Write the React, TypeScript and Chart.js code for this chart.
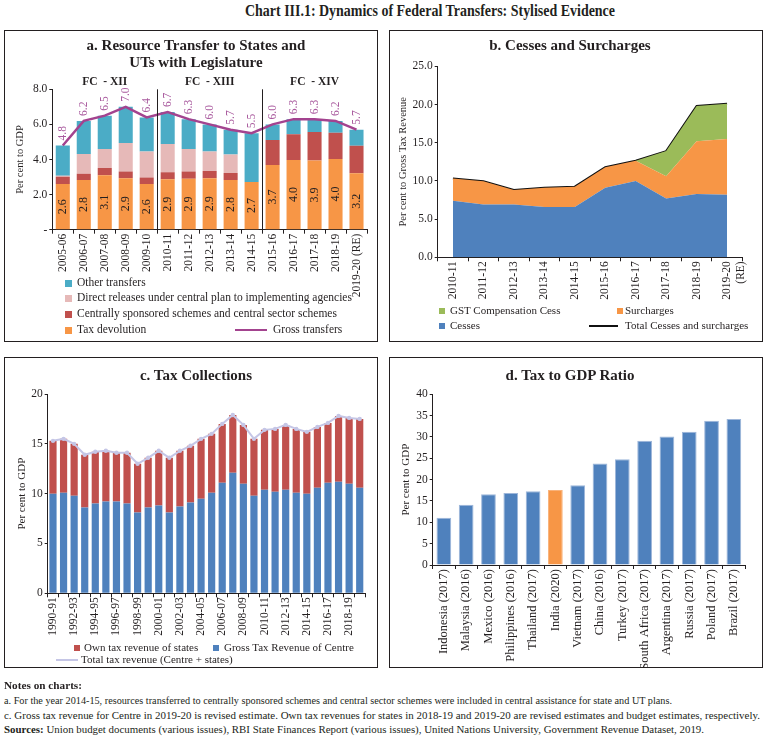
import React, { useEffect, useLayoutEffect, useRef } from 'react';
import { Chart, registerables } from 'chart.js';

Chart.register(...registerables);

const FONT = "'Liberation Serif', 'Times New Roman', serif";
const INK = '#231f20';
const ORANGE = '#F79646';
const RED = '#C0504D';
const PINK = '#E6B9B8';
const TEAL = '#4BACC6';
const BLUE = '#4F81BD';
const GREEN = '#9BBB59';
const PURPLE = '#A3438F';
const PURPLE_LABEL = '#A95A9E';
const LAVENDER = '#C5C6E6';

Chart.defaults.font.family = FONT;
Chart.defaults.color = INK;

// ---------- Panel a: Resource Transfer to States and UTs with Legislature ----------
const aYears = ['2005-06', '2006-07', '2007-08', '2008-09', '2009-10', '2010-11', '2011-12', '2012-13', '2013-14', '2014-15', '2015-16', '2016-17', '2017-18', '2018-19', '2019-20 (RE)'];
const aTaxDevolution = [2.6, 2.83, 3.1, 2.93, 2.6, 2.88, 2.9, 2.93, 2.83, 2.72, 3.69, 3.97, 3.94, 4.03, 3.21];
const aCentrallySponsored = [0.42, 0.36, 0.42, 0.38, 0.37, 0.39, 0.41, 0.42, 0.4, 0, 1.42, 1.47, 1.63, 1.5, 1.58];
const aDirectReleases = [0.05, 1.13, 1.08, 1.63, 1.48, 1.62, 1.29, 1.1, 1.05, 0, 0, 0, 0, 0, 0];
const aOtherTransfers = [1.73, 1.88, 1.9, 2.06, 1.95, 1.81, 1.7, 1.55, 1.42, 2.78, 0.89, 0.86, 0.73, 0.67, 0.91];
const aGrossTransfers = [4.8, 6.2, 6.5, 7.0, 6.4, 6.7, 6.3, 6.0, 5.7, 5.5, 6.0, 6.3, 6.3, 6.2, 5.7];
const aFcGroups = ['FC  - XII', 'FC  - XIII', 'FC  - XIV'];
const aSeries = ['Other transfers', 'Direct releases under central plan to implementing agencies', 'Centrally sponsored schemes and central sector schemes', 'Tax devolution', 'Gross transfers'];

// ---------- Panel b: Cesses and Surcharges ----------
const bYears: (string | string[])[] = ['2010-11', '2011-12', '2012-13', '2013-14', '2014-15', '2015-16', '2016-17', '2017-18', '2018-19', ['2019-20', '(RE)']];
const bCesses = [7.4, 6.9, 6.9, 6.6, 6.6, 9.1, 10.0, 7.7, 8.3, 8.2];
const bSurcharges = [2.9, 3.05, 1.9, 2.5, 2.65, 2.7, 2.65, 2.9, 6.9, 7.3];
const bGstCess = [0, 0, 0, 0, 0, 0, 0, 3.3, 4.6, 4.6];
const bTotal = [10.3, 9.95, 8.8, 9.1, 9.25, 11.8, 12.65, 13.9, 19.8, 20.1];
const bSeries = ['GST Compensation Cess', 'Surcharges', 'Cesses', 'Total Cesses and surcharges'];

// ---------- Panel c: Tax Collections ----------
const cYears = ['1990-91', '1991-92', '1992-93', '1993-94', '1994-95', '1995-96', '1996-97', '1997-98', '1998-99', '1999-00', '2000-01', '2001-02', '2002-03', '2003-04', '2004-05', '2005-06', '2006-07', '2007-08', '2008-09', '2009-10', '2010-11', '2011-12', '2012-13', '2013-14', '2014-15', '2015-16', '2016-17', '2017-18', '2018-19', '2019-20'];
const cCentre = [10.0, 10.1, 9.8, 8.6, 9.0, 9.2, 9.2, 9.0, 8.1, 8.6, 8.8, 8.1, 8.7, 9.1, 9.5, 10.1, 11.1, 12.1, 11.0, 9.8, 10.4, 10.2, 10.4, 10.1, 10.0, 10.6, 11.1, 11.2, 11.0, 10.6];
const cStates = [5.3, 5.4, 5.2, 5.3, 5.2, 5.1, 4.9, 5.1, 4.9, 5.0, 5.5, 5.5, 5.6, 5.7, 6.0, 5.9, 5.9, 5.8, 5.9, 5.7, 6.0, 6.3, 6.5, 6.4, 6.2, 6.1, 6.0, 6.6, 6.6, 6.9];
const cTotal = [15.3, 15.5, 15.0, 13.9, 14.2, 14.3, 14.1, 14.1, 13.0, 13.6, 14.3, 13.6, 14.3, 14.8, 15.5, 16.0, 17.0, 17.9, 16.9, 15.5, 16.4, 16.5, 16.9, 16.5, 16.2, 16.7, 17.1, 17.8, 17.6, 17.5];
const cSeries = ['Own tax revenue of states', 'Gross Tax Revenue of Centre', 'Total tax revenue (Centre + states)'];

// ---------- Panel d: Tax to GDP Ratio ----------
const dCountries = ['Indonesia (2017)', 'Malaysia (2016)', 'Mexico (2016)', 'Philippines (2016)', 'Thailand (2017)', 'India (2020)', 'Vietnam (2017)', 'China (2016)', 'Turkey (2017)', 'South Africa (2017)', 'Argentina (2017)', 'Russia (2017)', 'Poland (2017)', 'Brazil (2017)'];
const dTaxToGdp = [11.1, 14.1, 16.6, 16.9, 17.3, 17.6, 18.7, 23.8, 24.8, 29.1, 30.1, 31.2, 33.8, 34.2];
const dHighlight = 'India (2020)';

// ---------- helpers ----------
const axisGrid = { drawOnChartArea: false, drawTicks: true, tickLength: 4, color: INK, lineWidth: 1 };
const axisBorder = { display: true, color: INK, width: 1 };

function xAxis(height: number, fontSize: number, extra: any = {}) {
  return {
    grid: { ...axisGrid, offset: true },
    border: axisBorder,
    offset: true,
    ticks: { autoSkip: false, minRotation: 90, maxRotation: 90, padding: 0, color: INK, font: { size: fontSize, family: FONT }, ...(extra.ticks || {}) },
    afterFit: (s: any) => { s.height = height; },
  };
}

function yAxis(width: number, min: number, max: number, step: number, fmt: (v: number) => string, title: string, titlePad: number, titleSize = 10.5) {
  return {
    min, max,
    grid: { ...axisGrid, tickLength: 3 },
    border: axisBorder,
    ticks: { stepSize: step, padding: 2, color: INK, font: { size: 11.5, family: FONT }, callback: (v: any) => fmt(Number(v)) },
    title: { display: true, text: title, color: INK, font: { size: titleSize, family: FONT }, padding: { top: titlePad, bottom: 0 } },
    afterFit: (s: any) => { s.width = width; },
  };
}

const baseOptions = (pad: { top: number; right: number }) => ({
  responsive: false,
  maintainAspectRatio: false,
  animation: false as const,
  devicePixelRatio: 1,
  layout: { padding: { top: pad.top, right: pad.right, left: 0, bottom: 0 } },
  plugins: { legend: { display: false }, tooltip: { enabled: false }, title: { display: false } },
  events: [] as any[],
});

const panelAPlugin = {
  id: 'panelAExtras',
  afterDatasetsDraw(chart: any) {
    const ctx = chart.ctx;
    const xs = chart.scales.x;
    const { top, bottom } = chart.chartArea;
    ctx.save();
    ctx.strokeStyle = INK;
    ctx.lineWidth = 1;
    [5, 10].forEach((i) => {
      const x = Math.round((xs.getPixelForValue(i - 1) + xs.getPixelForValue(i)) / 2) + 0.5;
      ctx.beginPath();
      ctx.moveTo(x, top);
      ctx.lineTo(x, bottom);
      ctx.stroke();
    });
    ctx.fillStyle = INK;
    ctx.font = `bold 11.5px ${FONT}`;
    ctx.textAlign = 'center';
    ctx.textBaseline = 'middle';
    aFcGroups.forEach((g, k) => {
      const x = (xs.getPixelForValue(k * 5) + xs.getPixelForValue(k * 5 + 4)) / 2;
      ctx.fillText(g, x, top - 7);
    });
    const meta0 = chart.getDatasetMeta(0);
    ctx.font = `12px ${FONT}`;
    meta0.data.forEach((bar: any, i: number) => {
      const p = bar.getProps(['x', 'y', 'base'], true);
      ctx.save();
      ctx.translate(p.x, (p.y + p.base) / 2);
      ctx.rotate(-Math.PI / 2);
      ctx.textAlign = 'center';
      ctx.textBaseline = 'middle';
      ctx.fillText(aTaxDevolution[i].toFixed(1), 0, 0);
      ctx.restore();
    });
    const metaL = chart.getDatasetMeta(4);
    ctx.fillStyle = PURPLE_LABEL;
    ctx.font = `11.5px ${FONT}`;
    metaL.data.forEach((pt: any, i: number) => {
      ctx.save();
      ctx.translate(pt.x, pt.y - 5);
      ctx.rotate(-Math.PI / 2);
      ctx.textAlign = 'left';
      ctx.textBaseline = 'middle';
      ctx.fillText(aGrossTransfers[i].toFixed(1), 0, 0);
      ctx.restore();
    });
    ctx.restore();
  },
};

function configA(): any {
  return {
    type: 'bar',
    data: {
      labels: aYears,
      datasets: [
        { label: aSeries[3], data: aTaxDevolution, backgroundColor: ORANGE, stack: 's', barPercentage: 0.67, categoryPercentage: 1 },
        { label: aSeries[2], data: aCentrallySponsored, backgroundColor: RED, stack: 's', barPercentage: 0.67, categoryPercentage: 1 },
        { label: aSeries[1], data: aDirectReleases, backgroundColor: PINK, stack: 's', barPercentage: 0.67, categoryPercentage: 1 },
        { label: aSeries[0], data: aOtherTransfers, backgroundColor: TEAL, stack: 's', barPercentage: 0.67, categoryPercentage: 1 },
        { type: 'line', label: aSeries[4], data: aGrossTransfers, borderColor: PURPLE, borderWidth: 2.5, pointRadius: 0, stack: 'line', order: -1, tension: 0 },
      ],
    },
    options: {
      ...baseOptions({ top: 58.3, right: 10 }),
      scales: {
        x: { ...xAxis(111.3, 11.5), stacked: true },
        y: { ...yAxis(47.3, 0, 8, 2, (v) => (v === 0 ? '-' : v.toFixed(1)), 'Per cent to GDP', 8.5), stacked: true },
      },
    },
    plugins: [panelAPlugin],
  };
}

function configB(): any {
  const area = (label: string, data: number[], color: string, fill: string) => ({
    label, data, backgroundColor: color, borderColor: 'rgba(0,0,0,0)', borderWidth: 0, pointRadius: 0, fill, stack: 'area', tension: 0,
  });
  return {
    type: 'line',
    data: {
      labels: bYears,
      datasets: [
        area(bSeries[2], bCesses, BLUE, 'origin'),
        area(bSeries[1], bSurcharges, ORANGE, '-1'),
        area(bSeries[0], bGstCess, GREEN, '-1'),
        { label: bSeries[3], data: bTotal, borderColor: '#111111', borderWidth: 2, pointRadius: 0, fill: false, stack: 'total', tension: 0 },
      ],
    },
    options: {
      ...baseOptions({ top: 35.3, right: 19.7 }),
      scales: {
        x: xAxis(83.7, 11.5),
        y: { ...yAxis(47.7, 0, 25, 5, (v) => v.toFixed(1), 'Per cent to Gross Tax Revenue', 6.7), stacked: true },
      },
    },
  };
}

function configC(): any {
  return {
    type: 'bar',
    data: {
      labels: cYears,
      datasets: [
        { label: cSeries[1], data: cCentre, backgroundColor: BLUE, stack: 's', barPercentage: 0.68, categoryPercentage: 1 },
        { label: cSeries[0], data: cStates, backgroundColor: RED, stack: 's', barPercentage: 0.68, categoryPercentage: 1 },
        { type: 'line', label: cSeries[2], data: cTotal, borderColor: LAVENDER, backgroundColor: LAVENDER, borderWidth: 2, pointRadius: 1.2, stack: 'line', order: -1, tension: 0 },
      ],
    },
    options: {
      ...baseOptions({ top: 36, right: 12 }),
      scales: {
        x: { ...xAxis(73.7, 11.5, { ticks: { callback: (_v: any, i: number) => (i % 2 === 0 ? cYears[i] : '') } }), stacked: true },
        y: { ...yAxis(42.7, 0, 20, 5, (v) => String(v), 'Per cent to GDP', 10.2, 11), stacked: true },
      },
    },
  };
}

function configD(): any {
  return {
    type: 'bar',
    data: {
      labels: dCountries,
      datasets: [
        {
          label: 'Tax to GDP',
          data: dTaxToGdp,
          backgroundColor: dCountries.map((c) => (c === dHighlight ? ORANGE : BLUE)),
          borderColor: dCountries.map((c) => (c === dHighlight ? '#F9B27A' : '#9DB6DA')),
          borderWidth: 1,
          barPercentage: 0.66,
          categoryPercentage: 1,
        },
      ],
    },
    options: {
      ...baseOptions({ top: 36.3, right: 17 }),
      scales: {
        x: xAxis(102, 12.5),
        y: yAxis(42.7, 0, 40, 5, (v) => String(v), 'Per cent to GDP', 9.2, 11),
      },
    },
  };
}

// ---------- components ----------
function ChartCanvas({ x, y, w, h, make }: { x: number; y: number; w: number; h: number; make: () => any }) {
  const ref = useRef<HTMLCanvasElement>(null);
  useEffect(() => {
    const chart = new Chart(ref.current as HTMLCanvasElement, make());
    return () => chart.destroy();
  }, []);
  return <canvas ref={ref} width={w} height={h} style={{ position: 'absolute', left: x, top: y, width: w, height: h }} />;
}

function Box({ x, y, w, h }: { x: number; y: number; w: number; h: number }) {
  return <div style={{ position: 'absolute', left: x, top: y, width: w, height: h, border: `1px solid ${INK}`, boxSizing: 'border-box' }} />;
}

function Txt({ x, y, size = 10.5, bold = false, color = INK, children, center = false }: any) {
  return (
    <div
      style={{
        position: 'absolute', left: center ? x - 200 : x, top: y - size * 0.6, width: center ? 400 : undefined,
        textAlign: center ? 'center' : 'left', fontSize: size, lineHeight: `${size * 1.2}px`, fontWeight: bold ? 700 : 400,
        color, whiteSpace: 'nowrap', fontFamily: FONT,
      }}
    >
      {children}
    </div>
  );
}

function FitText({ x, y, w, size, bold = false, children }: any) {
  const ref = useRef<HTMLDivElement>(null);
  useLayoutEffect(() => {
    const el = ref.current as HTMLDivElement;
    el.style.transform = 'none';
    const nat = el.getBoundingClientRect().width;
    if (nat > 0) el.style.transform = `scaleX(${w / nat})`;
  }, []);
  return (
    <div
      ref={ref}
      style={{
        position: 'absolute', left: x, top: y - size * 0.6, fontSize: size, lineHeight: `${size * 1.2}px`,
        fontWeight: bold ? 700 : 400, color: INK, whiteSpace: 'nowrap', fontFamily: FONT, transformOrigin: '0 50%',
      }}
    >
      {children}
    </div>
  );
}

function Sq({ x, y, c, s = 7 }: any) {
  return <div style={{ position: 'absolute', left: x, top: y - s / 2, width: s, height: s, background: c }} />;
}

function Ln({ x1, x2, y, c, t = 2.5 }: any) {
  return <div style={{ position: 'absolute', left: x1, top: y - t / 2, width: x2 - x1, height: t, background: c }} />;
}

export default function App() {
  return (
    <div style={{ position: 'absolute', left: 0, top: 0, width: 766, height: 737, background: '#fff', overflow: 'hidden', fontFamily: FONT, color: INK }}>
      <FitText x={245} y={11} w={370} size={16} bold>Chart III.1: Dynamics of Federal Transfers: Stylised Evidence</FitText>

      {/* Panel a */}
      <Box x={4} y={30} w={374} h={312} />
      <ChartCanvas x={5} y={31} w={372} h={310} make={configA} />
      <Txt x={196} y={45} size={15} bold center>a. Resource Transfer to States and</Txt>
      <Txt x={196} y={62} size={15} bold center>UTs with Legislature</Txt>
      <Sq x={65} y={283} c={TEAL} />
      <Txt x={77} y={283} size={11.5}>{aSeries[0]}</Txt>
      <Sq x={65} y={298} c={PINK} />
      <Txt x={77} y={298} size={11.5}>{aSeries[1]}</Txt>
      <Sq x={65} y={314} c={RED} />
      <Txt x={77} y={314} size={11.5}>{aSeries[2]}</Txt>
      <Sq x={65} y={330} c={ORANGE} />
      <Txt x={77} y={330} size={11.5}>{aSeries[3]}</Txt>
      <Ln x1={235} x2={267} y={330} c={PURPLE} />
      <Txt x={273} y={330} size={11.5}>{aSeries[4]}</Txt>

      {/* Panel b */}
      <Box x={389} y={30} w={374} h={312} />
      <ChartCanvas x={390} y={31} w={372} h={310} make={configB} />
      <Txt x={570} y={45} size={15} bold center>b. Cesses and Surcharges</Txt>
      <Sq x={439} y={311} c={GREEN} s={6} />
      <Txt x={450} y={311} size={11}>{bSeries[0]}</Txt>
      <Sq x={617} y={311} c={ORANGE} s={6} />
      <Txt x={625} y={311} size={11}>{bSeries[1]}</Txt>
      <Sq x={439} y={326} c={BLUE} s={6} />
      <Txt x={450} y={326} size={11}>{bSeries[2]}</Txt>
      <Ln x1={589} x2={618} y={326} c="#111" t={2} />
      <Txt x={625} y={326} size={11}>{bSeries[3]}</Txt>

      {/* Panel c */}
      <Box x={4} y={357} w={374} h={311} />
      <ChartCanvas x={5} y={358} w={372} h={309} make={configC} />
      <Txt x={196} y={375} size={15} bold center>c. Tax Collections</Txt>
      <Sq x={74} y={648} c={RED} s={6} />
      <Txt x={84} y={648} size={11}>{cSeries[0]}</Txt>
      <Sq x={213} y={648} c={BLUE} s={6} />
      <Txt x={224} y={648} size={11}>{cSeries[1]}</Txt>
      <Ln x1={56} x2={78} y={660} c={LAVENDER} t={2} />
      <Txt x={81} y={660} size={11}>{cSeries[2]}</Txt>

      {/* Panel d */}
      <Box x={389} y={357} w={374} h={311} />
      <ChartCanvas x={390} y={358} w={372} h={309} make={configD} />
      <Txt x={570} y={375} size={15} bold center>d. Tax to GDP Ratio</Txt>

      {/* Notes */}
      <FitText x={4} y={686} w={78} size={11} bold>Notes on charts:</FitText>
      <FitText x={4} y={701} w={668} size={11}>a. For the year 2014-15, resources transferred to centrally sponsored schemes and central sector schemes were included in central assistance for state and UT plans.</FitText>
      <FitText x={4} y={716} w={756} size={11}>c. Gross tax revenue for Centre in 2019-20 is revised estimate. Own tax revenues for states in 2018-19 and 2019-20 are revised estimates and budget estimates, respectively.</FitText>
      <FitText x={4} y={730} w={700} size={11}><b>Sources:</b> Union budget documents (various issues), RBI State Finances Report (various issues), United Nations University, Government Revenue Dataset, 2019.</FitText>
    </div>
  );
}
